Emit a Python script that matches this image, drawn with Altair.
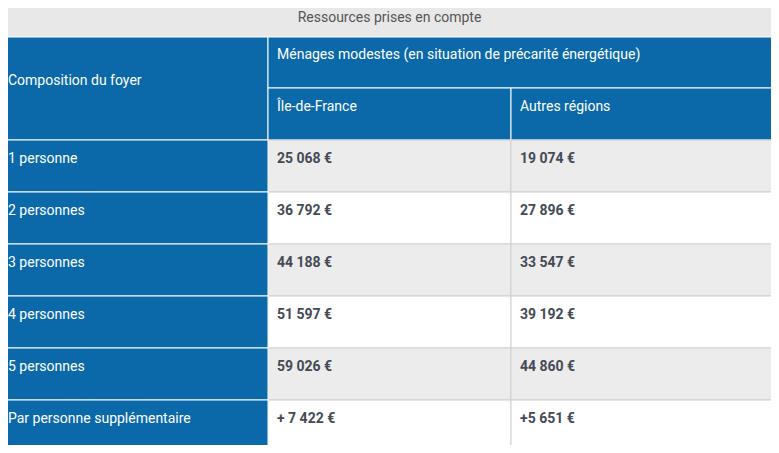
import altair as alt
import pandas as pd

# ---- data ----
title = "Ressources prises en compte"
group_header = "Ménages modestes (en situation de précarité énergétique)"
first_header = "Composition du foyer"
regions = ["Île-de-France", "Autres régions"]
compositions = ["1 personne", "2 personnes", "3 personnes", "4 personnes",
                "5 personnes", "Par personne supplémentaire"]
idf = ["25 068 €", "36 792 €", "44 188 €", "51 597 €", "59 026 €", "+ 7 422 €"]
autres = ["19 074 €", "27 896 €", "33 547 €", "39 192 €", "44 860 €", "+5 651 €"]

# ---- layout (pixels in the table's own frame) ----
W, H = 779, 453
col_edges = [0, 268, 511, 779]
title_h = 37
head1_bottom = 88
head2_bottom = 140
row_h = 52
BLUE = "#0b69a9"
GREY_TOP = "#e8e8e8"
GREY_ROW = "#ececec"
LINE = "#d0d0d0"
pad = 8  # page margin

rects, head_txt, data_txt = [], [], []
rects.append(dict(x=0, x2=W, y=0, y2=title_h, fill=GREY_TOP, stroke=GREY_TOP))
rects.append(dict(x=col_edges[0], x2=col_edges[1], y=title_h, y2=head2_bottom, fill=BLUE, stroke="white"))
rects.append(dict(x=col_edges[1], x2=col_edges[3], y=title_h, y2=head1_bottom, fill=BLUE, stroke="white"))
rects.append(dict(x=col_edges[1], x2=col_edges[2], y=head1_bottom, y2=head2_bottom, fill=BLUE, stroke="white"))
rects.append(dict(x=col_edges[2], x2=col_edges[3], y=head1_bottom, y2=head2_bottom, fill=BLUE, stroke="white"))
head_txt.append(dict(x=col_edges[0] + 8, y=81, t=first_header))
head_txt.append(dict(x=col_edges[1] + 9, y=55, t=group_header))
for i, r in enumerate(regions):
    head_txt.append(dict(x=col_edges[1 + i] + 9, y=107, t=r))

for i, comp in enumerate(compositions):
    top = head2_bottom + i * row_h
    bot = top + row_h
    fill = GREY_ROW if i % 2 == 0 else "white"
    rects.append(dict(x=col_edges[1], x2=col_edges[2], y=top, y2=bot, fill=fill, stroke=LINE))
    rects.append(dict(x=col_edges[2], x2=col_edges[3], y=top, y2=bot, fill=fill, stroke=LINE))
for i, comp in enumerate(compositions):
    top = head2_bottom + i * row_h
    bot = top + row_h
    rects.append(dict(x=col_edges[0], x2=col_edges[1], y=top, y2=bot, fill=BLUE, stroke="white"))
    head_txt.append(dict(x=col_edges[0] + 8, y=top + 19, t=comp))
    data_txt.append(dict(x=col_edges[1] + 9, y=top + 19, t=idf[i]))
    data_txt.append(dict(x=col_edges[2] + 9, y=top + 19, t=autres[i]))

VW, VH = W - 2 * pad, H - 2 * pad
xs = alt.Scale(domain=[pad, W - pad], range=[0, VW])
ys = alt.Scale(domain=[pad, H - pad], range=[0, VH])

base_rect = alt.Chart(pd.DataFrame(rects)).mark_rect(strokeWidth=1).encode(
    x=alt.X("x:Q", scale=xs, axis=None),
    x2="x2:Q",
    y=alt.Y("y:Q", scale=ys, axis=None),
    y2="y2:Q",
    fill=alt.Fill("fill:N", scale=None),
    stroke=alt.Stroke("stroke:N", scale=None),
)

title_layer = alt.Chart(pd.DataFrame([dict(x=W / 2, y=18, t=title)])).mark_text(
    font="Roboto", fontSize=14, color="#555555", align="center", baseline="middle"
).encode(x=alt.X("x:Q", scale=xs), y=alt.Y("y:Q", scale=ys), text="t:N")

head_layer = alt.Chart(pd.DataFrame(head_txt)).mark_text(
    font="Roboto", fontSize=14, color="white", align="left", baseline="middle"
).encode(x=alt.X("x:Q", scale=xs), y=alt.Y("y:Q", scale=ys), text="t:N")

data_layer = alt.Chart(pd.DataFrame(data_txt)).mark_text(
    font="Roboto", fontSize=14, fontWeight="bold", color="#444a55", align="left", baseline="middle"
).encode(x=alt.X("x:Q", scale=xs), y=alt.Y("y:Q", scale=ys), text="t:N")

chart = alt.layer(base_rect, title_layer, head_layer, data_layer).properties(
    width=VW, height=VH, padding=0, autosize="none"
).configure_view(stroke=None)

chart.save("out.html", embed_options={"renderer": "svg", "actions": False})
